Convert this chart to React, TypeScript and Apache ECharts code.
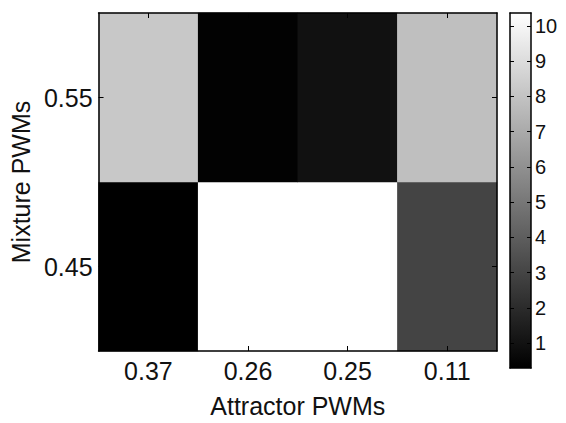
import React, { useEffect, useRef } from "react";
import * as echarts from "echarts";

const attractorLabels = ["0.37", "0.26", "0.25", "0.11"];
const mixtureLabels = ["0.45", "0.55"];
// values per row (mixture), columns follow attractorLabels
const row045 = [0.29, 10.37, 10.36, 2.98];
const row055 = [8.2, 0.35, 0.95, 7.85];
const colorMin = 0.29;
const colorMax = 10.37;
const colorbarTicks = [1, 2, 3, 4, 5, 6, 7, 8, 9, 10];

const FONT = "'Liberation Sans', Arial, Helvetica, sans-serif";
const TXT = "#111";

export default function App() {
  const ref = useRef<HTMLDivElement>(null);
  useEffect(() => {
    if (!ref.current) return;
    const chart = echarts.init(ref.current, null, { renderer: "svg" });
    const data: [number, number, number][] = [];
    row045.forEach((v, i) => data.push([i, 0, v]));
    row055.forEach((v, i) => data.push([i, 1, v]));

    const hiddenCat = (gridIndex: number, position: string, data: string[]) => ({
      type: "category",
      gridIndex,
      position,
      data,
      z: 10,
      axisLine: { show: true, lineStyle: { color: "#000", width: 1.5 } },
      axisTick: { show: true, inside: true, alignWithLabel: true, length: 5, lineStyle: { color: "#000" } },
      axisLabel: { show: false },
      splitLine: { show: false },
    });

    chart.setOption({
      animation: false,
      backgroundColor: "#fff",
      textStyle: { fontFamily: FONT },
      grid: [
        { left: 97, top: 13, width: 400, height: 355 },
        { left: 510, top: 13, width: 21, height: 355 },
      ],
      xAxis: [
        {
          type: "category",
          gridIndex: 0,
          position: "bottom",
          data: attractorLabels,
          z: 10,
          name: "Attractor PWMs",
          nameLocation: "middle",
          nameGap: 42,
          nameTextStyle: { fontSize: 25, color: TXT, fontFamily: FONT },
          axisLine: { show: true, lineStyle: { color: "#000", width: 1.5 } },
          axisTick: { show: true, inside: true, alignWithLabel: true, length: 5, lineStyle: { color: "#000" } },
          axisLabel: { fontSize: 25, color: TXT, margin: 7, fontFamily: FONT },
          splitLine: { show: false },
        },
        hiddenCat(0, "top", attractorLabels),
        {
          type: "category",
          gridIndex: 1,
          data: ["cb"],
          axisLine: { show: true, lineStyle: { color: "#000", width: 1.5 } },
          axisTick: { show: false },
          axisLabel: { show: false },
          z: 10,
        },
        {
          type: "category",
          gridIndex: 1,
          position: "top",
          data: ["cb"],
          axisLine: { show: true, lineStyle: { color: "#000", width: 1.5 } },
          axisTick: { show: false },
          axisLabel: { show: false },
          z: 10,
        },
      ],
      yAxis: [
        {
          type: "category",
          gridIndex: 0,
          position: "left",
          data: mixtureLabels,
          z: 10,
          name: "Mixture PWMs",
          nameLocation: "middle",
          nameGap: 62,
          nameRotate: 90,
          nameTextStyle: { fontSize: 25, color: TXT, fontFamily: FONT },
          axisLine: { show: true, lineStyle: { color: "#000", width: 1.5 } },
          axisTick: { show: true, inside: true, alignWithLabel: true, length: 5, lineStyle: { color: "#000" } },
          axisLabel: { fontSize: 25, color: TXT, margin: 6, fontFamily: FONT },
          splitLine: { show: false },
        },
        hiddenCat(0, "right", mixtureLabels),
        {
          type: "value",
          gridIndex: 1,
          position: "right",
          min: colorMin,
          max: colorMax,
          z: 10,
          axisLine: { show: true, lineStyle: { color: "#000", width: 1.5 } },
          axisTick: { show: true, inside: true, length: 4, customValues: colorbarTicks, lineStyle: { color: "#000" } },
          axisLabel: { fontSize: 20, color: TXT, margin: 4, customValues: colorbarTicks, fontFamily: FONT },
          splitLine: { show: false },
        },
        {
          type: "value",
          gridIndex: 1,
          position: "left",
          min: colorMin,
          max: colorMax,
          z: 10,
          axisLine: { show: true, lineStyle: { color: "#000", width: 1.5 } },
          axisTick: { show: true, inside: true, length: 4, customValues: colorbarTicks, lineStyle: { color: "#000" } },
          axisLabel: { show: false },
          splitLine: { show: false },
        },
      ],
      visualMap: {
        show: false,
        type: "continuous",
        min: colorMin,
        max: colorMax,
        seriesIndex: 0,
        inRange: { color: ["#000000", "#ffffff"] },
      },
      series: [
        {
          type: "heatmap",
          xAxisIndex: 0,
          yAxisIndex: 0,
          data,
          itemStyle: { borderWidth: 0 },
        },
        {
          type: "bar",
          xAxisIndex: 2,
          yAxisIndex: 2,
          data: [colorMax],
          barWidth: "100%",
          itemStyle: {
            color: new echarts.graphic.LinearGradient(0, 1, 0, 0, [
              { offset: 0, color: "#000000" },
              { offset: 1, color: "#ffffff" },
            ]),
          },
        },
      ],
    });
    return () => chart.dispose();
  }, []);
  return (
    <div
      ref={ref}
      style={{ position: "fixed", left: 0, top: 0, width: 566, height: 423 }}
    />
  );
}
